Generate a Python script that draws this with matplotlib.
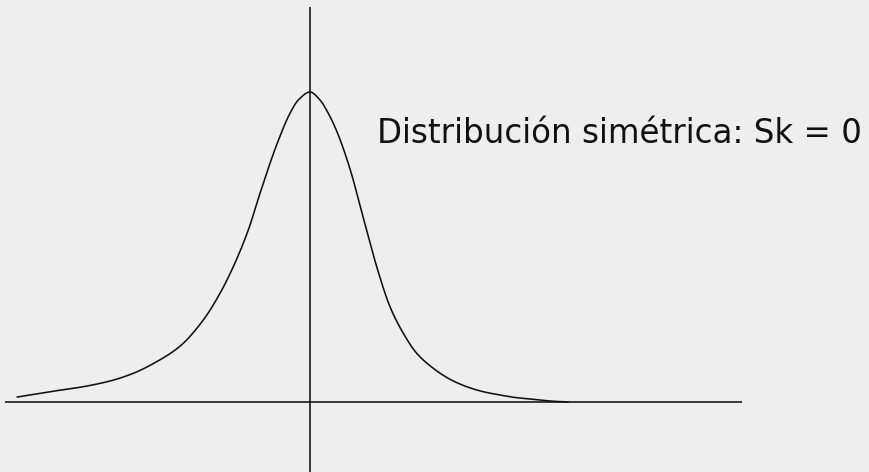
import matplotlib
matplotlib.use("Agg")
import matplotlib.pyplot as plt
import numpy as np

# Curve data (x: horizontal units relative to the vertical axis, y: density normalised to peak = 1)
curve_x = [-2.927, -2.60, -2.267, -2.00, -1.767, -1.533, -1.30, -1.067, -0.90, -0.767,
           -0.617, -0.50, -0.333, -0.20, -0.117, 0.0,
           0.10, 0.183, 0.267, 0.40, 0.533, 0.667, 0.80, 0.933, 1.067, 1.233,
           1.40, 1.567, 1.733, 1.90, 2.067, 2.233, 2.40, 2.58]
curve_y = [0.0161, 0.0332, 0.0494, 0.0677, 0.0926, 0.130, 0.180, 0.2645, 0.3506, 0.4365,
           0.5548, 0.6732, 0.8300, 0.9313, 0.9742, 1.0,
           0.9742, 0.9313, 0.8740, 0.7520, 0.5940, 0.4365, 0.3074, 0.2216, 0.1571, 0.1087,
           0.0732, 0.0494, 0.0332, 0.0226, 0.0139, 0.0087, 0.0032, 0.0]

label_text = "Distribución simétrica: Sk = 0"

BG = "#eeeeee"
INK = "#111111"

fig = plt.figure(figsize=(8.69, 4.72), dpi=100, facecolor=BG)
ax = fig.add_axes([0, 0, 1, 1])
ax.set_facecolor(BG)
ax.set_xlim(-3.10, 5.59)
ax.set_ylim(-0.2258, 1.2968)
ax.axis("off")

# axis lines
ax.plot([-3.05, 4.32], [0, 0], color=INK, lw=1.15, solid_capstyle="butt")
ax.plot([0, 0], [-0.3, 1.274], color=INK, lw=1.15, solid_capstyle="butt")


# monotone cubic (PCHIP) drawing of the curve through the read points
def pchip(xs, ys, n=15):
    x = np.asarray(xs, float)
    y = np.asarray(ys, float)
    h = np.diff(x)
    d = np.diff(y) / h
    m = np.zeros_like(x)
    for k in range(1, len(x) - 1):
        if d[k - 1] * d[k] <= 0:
            m[k] = 0.0
        else:
            w1 = 2 * h[k] + h[k - 1]
            w2 = h[k] + 2 * h[k - 1]
            m[k] = (w1 + w2) / (w1 / d[k - 1] + w2 / d[k])
    m[0] = d[0]
    m[-1] = d[-1]
    ox, oy = [], []
    for k in range(len(x) - 1):
        t = np.linspace(0, 1, n, endpoint=False)
        h00 = 2 * t**3 - 3 * t**2 + 1
        h10 = t**3 - 2 * t**2 + t
        h01 = -2 * t**3 + 3 * t**2
        h11 = t**3 - t**2
        ox.extend(x[k] + t * h[k])
        oy.extend(h00 * y[k] + h10 * h[k] * m[k] + h01 * y[k + 1] + h11 * h[k] * m[k + 1])
    ox.append(x[-1])
    oy.append(y[-1])
    return np.array(ox), np.array(oy)


sx, sy = pchip(curve_x, curve_y)
ax.plot(sx, sy, color=INK, lw=1.15)

# label, fitted to reference width
txt = ax.text(0.667, 0.835, label_text, fontsize=28, family="DejaVu Sans",
              ha="left", va="baseline", color=INK)
fig.canvas.draw()
w = txt.get_window_extent(fig.canvas.get_renderer()).width
txt.set_fontsize(28 * 485.0 / w)

fig.savefig("out.png", dpi=100, facecolor=BG)
